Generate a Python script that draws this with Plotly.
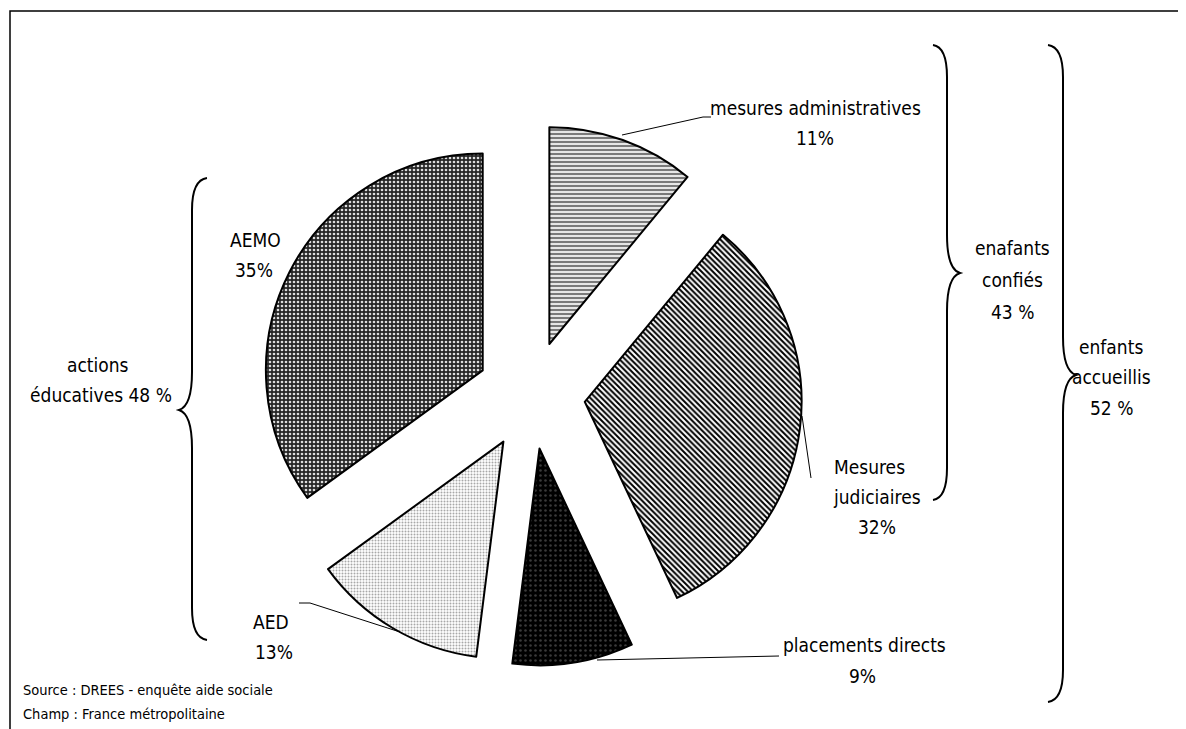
import plotly.graph_objects as go

# ---- data ----
categories = ["mesures administratives", "Mesures judiciaires", "placements directs", "AED", "AEMO"]
values = [11, 32, 9, 13, 35]
label_lines = {
    "mesures administratives": ["mesures administratives", "11%"],
    "Mesures judiciaires": ["Mesures", "judiciaires", "32%"],
    "placements directs": ["placements directs", "9%"],
    "AED": ["AED", "13%"],
    "AEMO": ["AEMO", "35%"],
}
group_lines = [["actions", "éducatives 48 %"], ["enafants", "confiés", "43 %"], ["enfants", "accueillis", "52 %"]]
notes = ["Source : DREES - enquête aide sociale", "Champ : France métropolitaine"]

OFF = 8                       # page body margin
W, H = 1186 - OFF, 729 - OFF
FONT = "DejaVu Sans Condensed, Liberation Sans Narrow, Arial Narrow, sans-serif"

def px(X):
    return (X - OFF) / W

def py(Y):
    return 1 - (Y - OFF) / H

fig = go.Figure()
fig.add_trace(go.Pie(
    labels=categories, values=values, sort=False, direction="clockwise", rotation=0,
    pull=[0.25] * len(values), textinfo="none", hoverinfo="label+percent", showlegend=False,
    domain=dict(x=[px(260), px(802)], y=[py(666), py(124)]),
    marker=dict(
        colors=["white", "white", "black", "white", "#262626"],
        line=dict(color="black", width=2),
        pattern=dict(
            shape=["-", "\\", ".", ".", "."],
            fgcolor=["#7a7a7a", "black", "#3a3a3a", "#a8a8a8", "#dddddd"],
            bgcolor=["#e6e6e6", "white", "black", "white", "#262626"],
            size=[4, 4, 5, 3, 4],
            solidity=[0.5, 0.5, 0.2, 0.35, 0.35],
        ),
    ),
))

fig.update_layout(
    width=W, height=H, margin=dict(l=0, r=0, t=0, b=0),
    paper_bgcolor="white", plot_bgcolor="rgba(0,0,0,0)",
    xaxis=dict(range=[OFF, OFF + W], visible=False, fixedrange=True),
    yaxis=dict(range=[OFF + H, OFF], visible=False, fixedrange=True),
    font=dict(family=FONT, color="black", size=19),
)

shapes = []
shapes.append(dict(type="rect", x0=10, y0=11, x1=OFF + W + 20, y1=OFF + H + 20,
                   line=dict(color="black", width=1.5)))

def brace(x0, xv, xp, ytop, ymid, ybot):
    return (f"M {x0},{ytop} Q {xv},{ytop+2} {xv},{ytop+32} L {xv},{ymid-38} "
            f"Q {xv},{ymid-4} {xp},{ymid} Q {xv},{ymid+4} {xv},{ymid+38} L {xv},{ybot-32} "
            f"Q {xv},{ybot-2} {x0},{ybot}")

for args in [(933, 947, 960, 45, 273, 500), (1048, 1063, 1076, 45, 375, 702), (207, 192, 179, 178, 410, 640)]:
    shapes.append(dict(type="path", path=brace(*args), line=dict(color="black", width=2)))

for p in ["M 622,135 L 703,117 L 711,117",
          "M 802,416 L 811,478",
          "M 597,660 L 779,656",
          "M 299,603 L 310,603 L 400,632"]:
    shapes.append(dict(type="path", path=p, line=dict(color="black", width=1)))
fig.update_layout(shapes=shapes)

ann = []
def add(text, x, y, size=19, xanchor="center"):
    ann.append(dict(text=text, x=x, y=y, xref="x", yref="y", showarrow=False,
                    xanchor=xanchor, yanchor="middle",
                    font=dict(size=size, family=FONT, color="black")))

pos = {
    "mesures administratives": [(815, 108), (815, 138)],
    "Mesures judiciaires": [(869, 467), (877, 497), (877, 527)],
    "placements directs": [(864, 645), (862, 676)],
    "AED": [(271, 622), (274, 652)],
    "AEMO": [(255, 240), (254, 270)],
}
for cat in categories:
    for line, (x, y) in zip(label_lines[cat], pos[cat]):
        add(line, x, y)

gpos = [[(98, 365), (101, 395)], [(1012, 248), (1012, 280), (1012, 312)], [(1111, 347), (1111, 377), (1111, 408)]]
for lines, ps in zip(group_lines, gpos):
    for line, (x, y) in zip(lines, ps):
        add(line, x, y)

add(notes[0], 21, 690, size=14.5, xanchor="left")
add(notes[1], 21, 714, size=14.5, xanchor="left")
fig.update_layout(annotations=ann)

fig.write_html("out.html")
